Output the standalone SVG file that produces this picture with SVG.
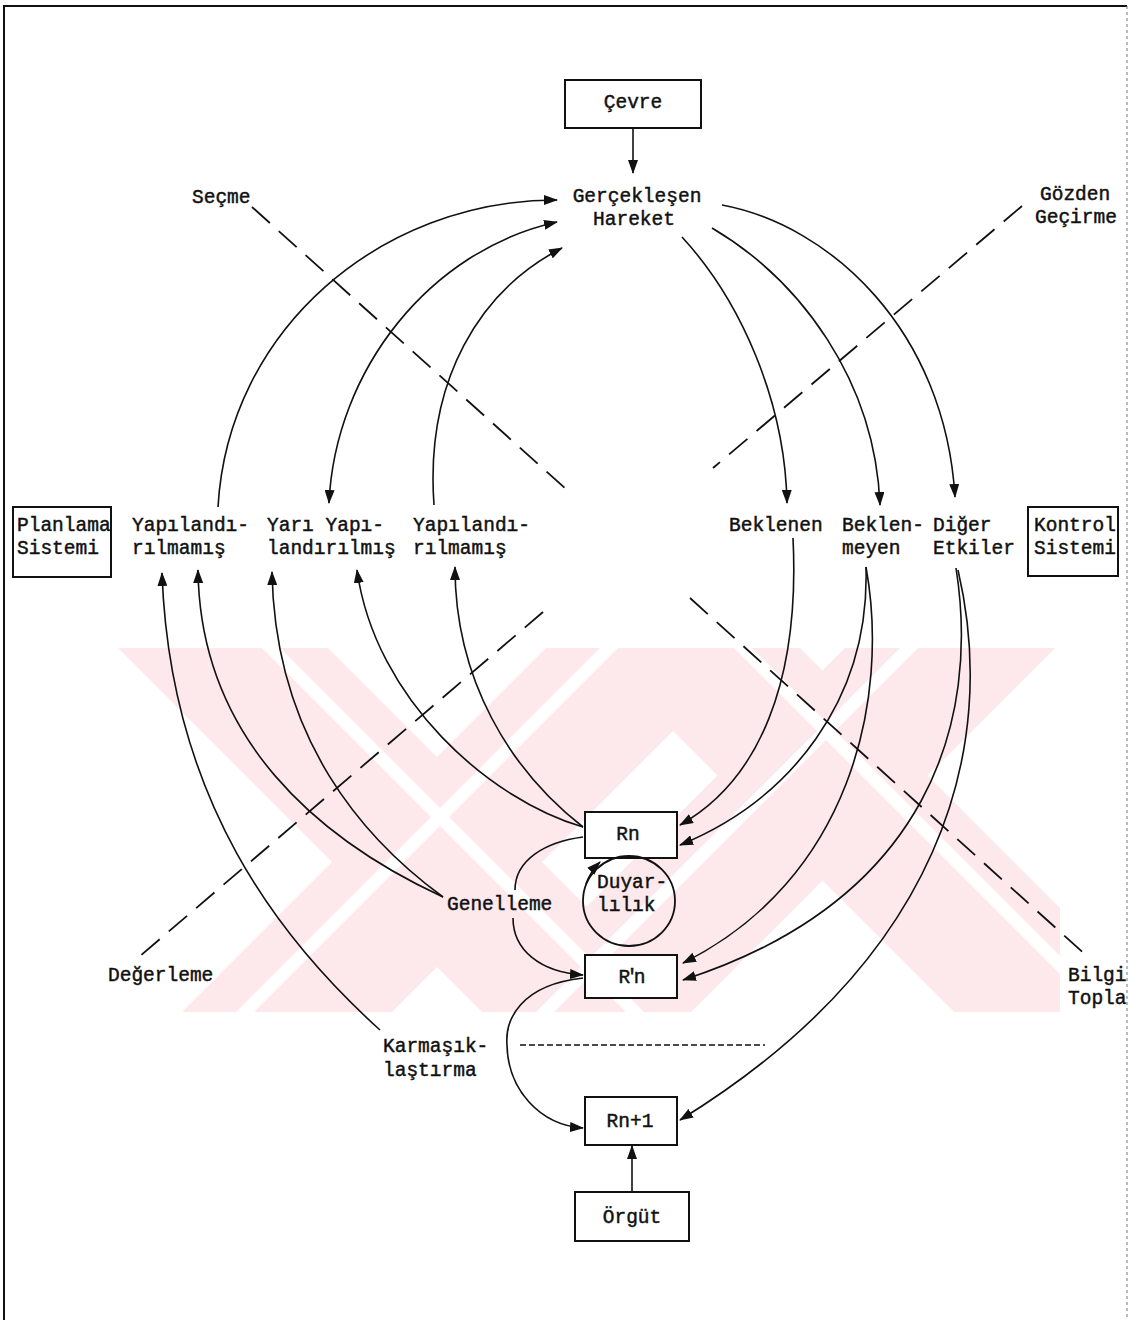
<svg xmlns="http://www.w3.org/2000/svg" width="1130" height="1324" viewBox="0 0 1130 1324">
<style>
text{font-family:"Liberation Mono","DejaVu Sans Mono",monospace;font-size:19.5px;fill:#111;stroke:#111;stroke-width:0.45}
.c{text-anchor:middle}
.box{fill:#fff;stroke:#111;stroke-width:2}
.ln{fill:none;stroke:#111;stroke-width:1.6}
.dash{fill:none;stroke:#111;stroke-width:1.8;stroke-dasharray:24 12}
.dot{fill:none;stroke:#111;stroke-width:1.4;stroke-dasharray:6 3}
.wm{fill:#fde8ec}
.wms{fill:#fff}
</style>
<defs>
<marker id="ah" markerUnits="userSpaceOnUse" markerWidth="14" markerHeight="10" refX="13" refY="5" orient="auto-start-reverse">
<path d="M0,0 L14,5 L0,10 z" fill="#111"/>
</marker>
<clipPath id="wmclip"><rect x="110" y="648" width="950" height="364"/></clipPath>
</defs>
<rect x="0" y="0" width="1130" height="1324" fill="#fff"/>
<g id="watermark" clip-path="url(#wmclip)">
<polygon class="wm" points="118,648 328,648 692,1012 482,1012"/>
<polygon class="wm" points="546,648 756,648 392,1012 182,1012"/>
<polygon class="wm" points="590,648 800,648 1164,1012 954,1012"/>
<polygon class="wm" points="845,648 1055,648 691,1012 481,1012"/>
<polygon class="wms" points="262,648 280,648 644,1012 626,1012"/>
<polygon class="wms" points="600,648 618,648 254,1012 236,1012"/>
<polygon class="wms" points="734,648 752,648 1116,1012 1098,1012"/>
<polygon class="wms" points="900,648 918,648 554,1012 536,1012"/>
</g>
<g id="frame">
<line x1="3" y1="6" x2="1127" y2="6" stroke="#111" stroke-width="2"/>
<line x1="4" y1="6" x2="4" y2="1320" stroke="#111" stroke-width="2"/>
<line x1="1127" y1="6" x2="1127" y2="1320" stroke="#777" stroke-width="1" stroke-dasharray="3 3"/>
</g>
<g id="separators">
<line class="dash" x1="252" y1="207" x2="567" y2="490"/>
<line class="dash" x1="1022" y1="206" x2="713" y2="468"/>
<line class="dash" x1="543" y1="612" x2="133" y2="962"/>
<line class="dash" x1="690" y1="598" x2="1088" y2="957"/>
<line class="dot" x1="520" y1="1045" x2="765" y2="1045"/>
</g>
<g id="connectors">
<path class="ln" d="M633,128 L633,173" marker-end="url(#ah)"/>
<path class="ln" d="M632,1192 L632,1146" marker-end="url(#ah)"/>
<path class="ln" d="M218,507 C228,330 380,200 557,200" marker-end="url(#ah)"/>
<path class="ln" d="M557,222 C430,250 335,370 329,503" marker-start="url(#ah)" marker-end="url(#ah)"/>
<path class="ln" d="M434,505 C425,380 480,290 562,248" marker-end="url(#ah)"/>
<path class="ln" d="M682,237 C740,300 785,400 787,503" marker-end="url(#ah)"/>
<path class="ln" d="M712,228 C800,280 875,380 880,505" marker-end="url(#ah)"/>
<path class="ln" d="M722,205 C830,225 945,330 955,497" marker-end="url(#ah)"/>
<path class="ln" d="M793,538 C800,680 760,780 680,825" marker-end="url(#ah)"/>
<path class="ln" d="M866,567 C870,700 790,800 680,845" marker-end="url(#ah)"/>
<path class="ln" d="M866,567 C890,700 850,880 683,963" marker-end="url(#ah)"/>
<path class="ln" d="M956,568 C980,720 930,900 683,980" marker-end="url(#ah)"/>
<path class="ln" d="M958,570 C1000,750 940,960 680,1120" marker-end="url(#ah)"/>
<path class="ln" d="M583,827 C490,800 375,700 357,570" marker-end="url(#ah)"/>
<path class="ln" d="M583,827 C510,770 455,680 455,567" marker-end="url(#ah)"/>
<path class="ln" d="M443,897 C320,840 200,740 198,570" marker-end="url(#ah)"/>
<path class="ln" d="M443,897 C365,840 275,740 272,572" marker-end="url(#ah)"/>
<path class="ln" d="M380,1030 C280,940 170,800 162,573" marker-end="url(#ah)"/>
<path class="ln" d="M583,837 C545,842 515,860 515,890"/>
<path class="ln" d="M513,918 C513,950 540,972 583,975" marker-end="url(#ah)"/>
<path class="ln" d="M583,978 C520,985 505,1020 507,1045 C508,1090 540,1125 583,1128" marker-end="url(#ah)"/>
<path class="ln" d="M586,884 Q590,872 600,862" marker-end="url(#ah)"/>
</g>
<g id="cevre"><rect class="box" x="565" y="80" width="136" height="48"/><text class="c" x="633" y="108">Çevre</text></g>
<g id="gerceklesen"><text class="c" x="637" y="202">Gerçekleşen</text><text class="c" x="634" y="225">Hareket</text></g>
<g id="secme"><text x="192" y="203">Seçme</text></g>
<g id="gozden"><text x="1040" y="200">Gözden</text><text x="1035" y="223">Geçirme</text></g>
<g id="planlama"><rect class="box" x="13" y="507" width="98" height="70"/><text x="17" y="531">Planlama</text><text x="17" y="554">Sistemi</text></g>
<g id="yap1"><text x="132" y="531">Yapılandı-</text><text x="132" y="554">rılmamış</text></g>
<g id="yari"><text x="267" y="531">Yarı Yapı-</text><text x="267" y="554">landırılmış</text></g>
<g id="yap3"><text x="413" y="531">Yapılandı-</text><text x="413" y="554">rılmamış</text></g>
<g id="beklenen"><text x="729" y="531">Beklenen</text></g>
<g id="beklenmeyen"><text x="842" y="531">Beklen-</text><text x="842" y="554">meyen</text></g>
<g id="diger"><text x="933" y="531">Diğer</text><text x="933" y="554">Etkiler</text></g>
<g id="kontrol"><rect class="box" x="1028" y="507" width="90" height="69"/><text x="1034" y="531">Kontrol</text><text x="1034" y="554">Sistemi</text></g>
<g id="rn"><rect class="box" x="585" y="812" width="92" height="46"/><text class="c" x="628" y="840">Rn</text></g>
<g id="duyarlilik"><ellipse cx="629" cy="901" rx="46" ry="45" fill="none" stroke="#111" stroke-width="1.8"/><text x="597" y="888">Duyar-</text><text x="597" y="911">lılık</text></g>
<g id="genelleme"><text x="447" y="910">Genelleme</text></g>
<g id="rnp"><rect class="box" x="585" y="955" width="92" height="43"/><text class="c" x="630" y="983" letter-spacing="-4">R'n</text></g>
<g id="rn1"><rect class="box" x="585" y="1097" width="92" height="48"/><text class="c" x="630" y="1127">Rn+1</text></g>
<g id="orgut"><rect class="box" x="575" y="1192" width="114" height="49"/><text class="c" x="632" y="1223">Örgüt</text></g>
<g id="karmasik"><text x="383" y="1052">Karmaşık-</text><text x="383" y="1076">laştırma</text></g>
<g id="degerleme"><text x="108" y="981">Değerleme</text></g>
<g id="bilgi"><text x="1068" y="981">Bilgi</text><text x="1068" y="1004">Topla</text></g>
</svg>
